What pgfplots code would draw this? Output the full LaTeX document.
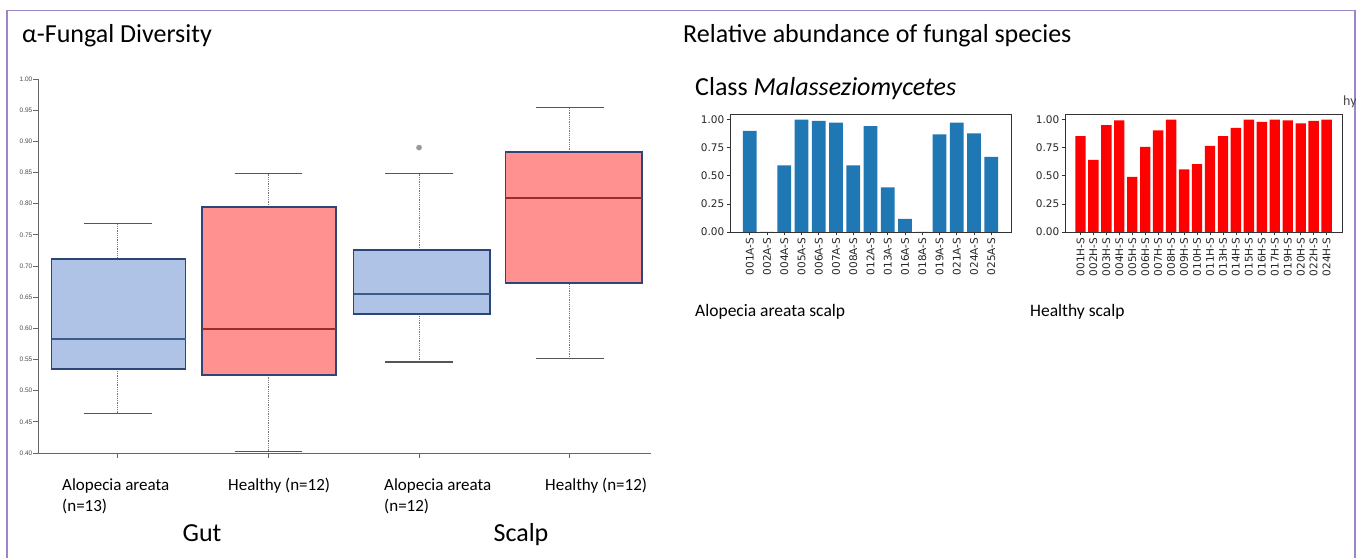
\documentclass[border=0pt]{standalone}
\usepackage{fontspec}
\setmainfont{Carlito}
\newfontfamily\dejavu{DejaVu Sans}
\newfontfamily\arialf{Liberation Sans}
\usepackage{pgfplots}
\pgfplotsset{compat=1.18}
\definecolor{framec}{HTML}{9B87C6}
\definecolor{boxblue}{HTML}{AEC3E6}
\definecolor{boxred}{HTML}{FF9191}
\definecolor{boxedge}{HTML}{2E4677}
\definecolor{medblue}{HTML}{3D5A8C}
\definecolor{medred}{HTML}{9B2C2C}
\definecolor{capc}{HTML}{555555}
\definecolor{whisk}{HTML}{777777}
\definecolor{mplblue}{HTML}{1F77B4}
\definecolor{mplred}{HTML}{FF0000}
\begin{document}
\begin{tikzpicture}[x=1pt,y=1pt]
\useasboundingbox (0,0) rectangle (1356,557);
\clip (0,0) rectangle (1356,557);
\fill[white] (0,0) rectangle (1356,557);
\draw[framec, line width=1.5pt] (7,-5) -- (7,546.5) -- (1355,546.5) -- (1355,-5);

% titles
\node[anchor=base west, inner sep=0, font=\fontsize{26}{30}\selectfont] at (22,514) {α-Fungal Diversity};
\node[anchor=base west, inner sep=0, font=\fontsize{26}{30}\selectfont] at (683,514) {Relative abundance of fungal species};
\node[anchor=base west, inner sep=0, font=\fontsize{26}{30}\selectfont] at (695,461) {Class \textit{Malasseziomycetes}};
\node[anchor=base west, inner sep=0, font=\fontsize{17.5}{20}\selectfont] at (695,240) {Alopecia areata scalp};
\node[anchor=base west, inner sep=0, font=\fontsize{17.5}{20}\selectfont] at (1030,240) {Healthy scalp};
\node[anchor=base west, inner sep=0, font=\fontsize{14}{16}\selectfont, text=black!70] at (1343,451) {hy};

% category labels
\begin{scope}[every node/.style={anchor=base west, inner sep=0, font=\fontsize{17}{20}\selectfont}]
\node at (62,67) {Alopecia areata};
\node at (62,46) {(n=13)};
\node at (228,67) {Healthy (n=12)};
\node at (384,67) {Alopecia areata};
\node at (384,46) {(n=12)};
\node at (545,67) {Healthy (n=12)};
\end{scope}
\node[anchor=base, inner sep=0, font=\fontsize{26}{30}\selectfont] at (202,16) {Gut};
\node[anchor=base, inner sep=0, font=\fontsize{26}{30}\selectfont] at (521,16) {Scalp};

% boxplot axis
\begin{axis}[
  at={(38pt,104pt)}, anchor=south west, scale only axis,
  width=613pt, height=374pt,
  xmin=0.47, xmax=4.54, ymin=0.40, ymax=1.00,
  axis x line*=bottom, axis y line*=left,
  axis line style={draw=black!60, line width=0.8pt},
  tick align=outside, major tick length=4.5pt,
  every tick/.style={draw=black!60, line width=0.8pt},
  xtick={1,2,3,4}, xticklabels={},
  ytick={0.40,0.45,0.50,0.55,0.60,0.65,0.70,0.75,0.80,0.85,0.90,0.95,1.00},
  yticklabels={0.40,0.45,0.50,0.55,0.60,0.65,0.70,0.75,0.80,0.85,0.90,0.95,1.00},
  yticklabel style={font=\arialf\fontsize{6.5}{7}\selectfont, text=black!70, inner xsep=1pt},
  clip=false,
]
% whiskers (dotted)
\addplot[densely dotted, whisk, line width=0.8pt] coordinates {(1,0.711) (1,0.768)};
\addplot[densely dotted, whisk, line width=0.8pt] coordinates {(1,0.464) (1,0.535)};
\addplot[densely dotted, whisk, line width=0.8pt] coordinates {(2,0.795) (2,0.849)};
\addplot[densely dotted, whisk, line width=0.8pt] coordinates {(2,0.403) (2,0.525)};
\addplot[densely dotted, whisk, line width=0.8pt] coordinates {(3,0.726) (3,0.848)};
\addplot[densely dotted, whisk, line width=0.8pt] coordinates {(3,0.546) (3,0.623)};
\addplot[densely dotted, whisk, line width=0.8pt] coordinates {(4,0.883) (4,0.954)};
\addplot[densely dotted, whisk, line width=0.8pt] coordinates {(4,0.551) (4,0.673)};
% caps
\addplot[capc, line width=1.2pt] coordinates {(0.775,0.768) (1.225,0.768)};
\addplot[capc, line width=1.2pt] coordinates {(0.775,0.464) (1.225,0.464)};
\addplot[capc, line width=1.2pt] coordinates {(1.775,0.849) (2.225,0.849)};
\addplot[capc, line width=1.2pt] coordinates {(1.775,0.403) (2.225,0.403)};
\addplot[capc, line width=1.2pt] coordinates {(2.775,0.848) (3.225,0.848)};
\addplot[capc, line width=1.2pt] coordinates {(2.775,0.546) (3.225,0.546)};
\addplot[capc, line width=1.2pt] coordinates {(3.775,0.954) (4.225,0.954)};
\addplot[capc, line width=1.2pt] coordinates {(3.775,0.551) (4.225,0.551)};
% boxes
\addplot[fill=boxblue, draw=boxedge, line width=1.6pt] coordinates {(0.56,0.535) (1.45,0.535) (1.45,0.711) (0.56,0.711)} -- cycle;
\addplot[fill=boxred, draw=boxedge, line width=1.6pt] coordinates {(1.56,0.525) (2.45,0.525) (2.45,0.795) (1.56,0.795)} -- cycle;
\addplot[fill=boxblue, draw=boxedge, line width=1.6pt] coordinates {(2.565,0.623) (3.47,0.623) (3.47,0.726) (2.565,0.726)} -- cycle;
\addplot[fill=boxred, draw=boxedge, line width=1.6pt] coordinates {(3.575,0.673) (4.48,0.673) (4.48,0.883) (3.575,0.883)} -- cycle;
% medians
\addplot[medblue, line width=1.2pt] coordinates {(0.56,0.583) (1.45,0.583)};
\addplot[medred, line width=1.2pt] coordinates {(1.56,0.599) (2.45,0.599)};
\addplot[medblue, line width=1.2pt] coordinates {(2.565,0.655) (3.47,0.655)};
\addplot[medred, line width=1.2pt] coordinates {(3.575,0.809) (4.48,0.809)};
% outlier
\addplot[only marks, mark=*, mark size=2.6pt, color=black!40] coordinates {(3,0.890)};
\end{axis}

% bar chart: alopecia areata scalp
\begin{axis}[
  at={(730pt,325pt)}, anchor=south west, scale only axis,
  width=281pt, height=118pt,
  xmin=-1.14, xmax=15.14, ymin=0, ymax=1.05,
  axis line style={draw=black!80, line width=0.8pt},
  tick align=outside, major tick length=3.5pt,
  every tick/.style={draw=black!80, line width=0.8pt},
  xtick pos=bottom, ytick pos=left,
  xtick={0,...,14},
  xticklabels={001A-S,002A-S,004A-S,005A-S,006A-S,007A-S,008A-S,012A-S,013A-S,016A-S,018A-S,019A-S,021A-S,024A-S,025A-S},
  xticklabel style={rotate=90, anchor=east, font=\dejavu\fontsize{10.5}{12}\selectfont, text=black!85, inner sep=2pt},
  ytick={0,0.25,0.5,0.75,1},
  yticklabels={0.00,0.25,0.50,0.75,1.00},
  yticklabel style={font=\dejavu\fontsize{10.5}{12}\selectfont, text=black!85, inner sep=2pt},
  ybar, bar width=0.8,
]
\addplot[fill=mplblue, draw=none] coordinates {
(0,0.899) (1,0) (2,0.593) (3,1.0) (4,0.988) (5,0.973) (6,0.593) (7,0.941)
(8,0.398) (9,0.116) (10,0) (11,0.869) (12,0.973) (13,0.878) (14,0.668)};
\end{axis}

% bar chart: healthy scalp
\begin{axis}[
  at={(1065pt,325pt)}, anchor=south west, scale only axis,
  width=277pt, height=118pt,
  xmin=-1.19, xmax=20.19, ymin=0, ymax=1.05,
  axis line style={draw=black!80, line width=0.8pt},
  tick align=outside, major tick length=3.5pt,
  every tick/.style={draw=black!80, line width=0.8pt},
  xtick pos=bottom, ytick pos=left,
  xtick={0,...,19},
  xticklabels={001H-S,002H-S,003H-S,004H-S,005H-S,006H-S,007H-S,008H-S,009H-S,010H-S,011H-S,013H-S,014H-S,015H-S,016H-S,017H-S,019H-S,020H-S,022H-S,024H-S},
  xticklabel style={rotate=90, anchor=east, font=\dejavu\fontsize{10.5}{12}\selectfont, text=black!85, inner sep=2pt},
  ytick={0,0.25,0.5,0.75,1},
  yticklabels={0.00,0.25,0.50,0.75,1.00},
  yticklabel style={font=\dejavu\fontsize{10.5}{12}\selectfont, text=black!85, inner sep=2pt},
  ybar, bar width=0.8,
]
\addplot[fill=mplred, draw=none] coordinates {
(0,0.852) (1,0.641) (2,0.950) (3,0.994) (4,0.490) (5,0.757) (6,0.905) (7,1.0)
(8,0.558) (9,0.605) (10,0.766) (11,0.852) (12,0.926) (13,1.0) (14,0.979)
(15,1.0) (16,0.994) (17,0.967) (18,0.988) (19,1.0)};
\end{axis}
\end{tikzpicture}
\end{document}
